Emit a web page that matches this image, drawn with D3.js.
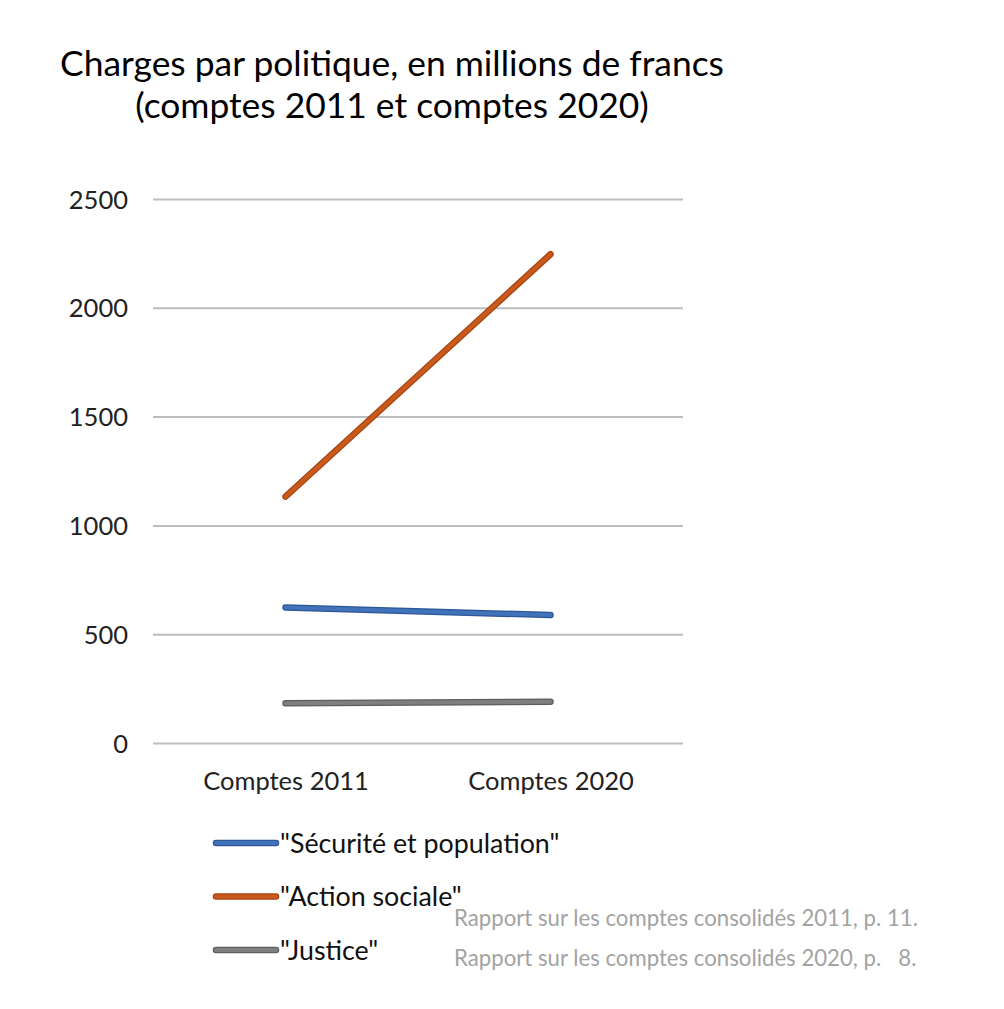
<!DOCTYPE html>
<html>
<head>
<meta charset="utf-8">
<script src="https://cdn.jsdelivr.net/npm/d3@7"></script>
<style>
  body { margin: 0; background: #fff; }
  text { font-family: Lato, "Open Sans", sans-serif; }
</style>
</head>
<body>
<svg id="chart" width="1004" height="1009"></svg>
<script>
var categories = ["Comptes 2011", "Comptes 2020"];
var seriesNames = ['"Sécurité et population"', '"Action sociale"', '"Justice"'];
var securite = [623, 588];
var action = [1132, 2246];
var justice = [183, 190];
var yTicks = [0, 500, 1000, 1500, 2000, 2500];
var titleLines = ["Charges par politique, en millions de francs", "(comptes 2011 et comptes 2020)"];
var sources = ["Rapport sur les comptes consolidés 2011, p. 11.", "Rapport sur les comptes consolidés 2020, p.   8."];

var colors = ["#4073ba", "#c95a1d", "#7f7f7f"];
var edges = ["#2d5796", "#a8440f", "#5e5e5e"];
var series = [securite, action, justice];

var svg = d3.select("#chart");
var margin = {left: 153, right: 1004 - 683, top: 199, bottom: 1009 - 743};

var x = d3.scalePoint()
    .domain(categories)
    .range([margin.left, 1004 - margin.right])
    .padding(0.5);

var y = d3.scaleLinear()
    .domain([0, 2500])
    .range([1009 - margin.bottom, margin.top]);

// titre
svg.selectAll(".title")
    .data(titleLines)
    .enter()
    .append("text")
    .attr("class", "title")
    .attr("x", 392)
    .attr("y", function(d, i) { return 76 + i * 42; })
    .attr("text-anchor", "middle")
    .style("font-size", "35.4px")
    .style("fill", "#000")
    .text(function(d) { return d; });

// grille + axe y
var yAxis = d3.axisLeft(y)
    .tickValues(yTicks)
    .tickSize(-(1004 - margin.left - margin.right))
    .tickPadding(25)
    .tickFormat(d3.format("d"));

var gy = svg.append("g")
    .attr("transform", "translate(" + margin.left + ",0)")
    .call(yAxis);
gy.select(".domain").remove();
gy.selectAll(".tick line")
    .style("stroke", "#bdbdbd")
    .style("stroke-width", 2);
gy.selectAll(".tick text")
    .style("font-size", "25.5px")
    .style("fill", "#222")
    .attr("dy", "0.36em");

// axe x
var xAxis = d3.axisBottom(x).tickSize(0).tickPadding(29);
var gx = svg.append("g")
    .attr("transform", "translate(0," + y(0) + ")")
    .call(xAxis);
gx.select(".domain").remove();
gx.selectAll(".tick text")
    .style("font-size", "25.5px")
    .style("fill", "#222");

// lignes
var line = d3.line()
    .x(function(d, i) { return x(categories[i]); })
    .y(function(d) { return y(d); });

var g = svg.selectAll(".serie")
    .data(series)
    .enter()
    .append("g")
    .attr("class", "serie");

g.append("path")
    .attr("d", line)
    .style("fill", "none")
    .style("stroke", function(d, i) { return edges[i]; })
    .style("stroke-width", 6.5)
    .style("stroke-linecap", "round");

g.append("path")
    .attr("d", line)
    .style("fill", "none")
    .style("stroke", function(d, i) { return colors[i]; })
    .style("stroke-width", 4)
    .style("stroke-linecap", "round");

// légende
var legend = svg.selectAll(".legend")
    .data(seriesNames)
    .enter()
    .append("g")
    .attr("class", "legend")
    .attr("transform", function(d, i) { return "translate(0," + (843 + i * 53.5) + ")"; });

legend.append("line")
    .attr("x1", 216)
    .attr("x2", 276)
    .style("stroke", function(d, i) { return edges[i]; })
    .style("stroke-width", 6.5)
    .style("stroke-linecap", "round");

legend.append("line")
    .attr("x1", 216)
    .attr("x2", 276)
    .style("stroke", function(d, i) { return colors[i]; })
    .style("stroke-width", 4)
    .style("stroke-linecap", "round");

legend.append("text")
    .attr("x", 280)
    .attr("dy", "0.36em")
    .style("font-size", "26.8px")
    .style("fill", "#111")
    .text(function(d) { return d; });

// sources
svg.selectAll(".source")
    .data(sources)
    .enter()
    .append("text")
    .attr("class", "source")
    .attr("x", 454)
    .attr("y", function(d, i) { return 926 + i * 40; })
    .style("font-size", "22.2px")
    .style("fill", "#a3a3a3")
    .style("white-space", "pre")
    .text(function(d) { return d; });
</script>
</body>
</html>
